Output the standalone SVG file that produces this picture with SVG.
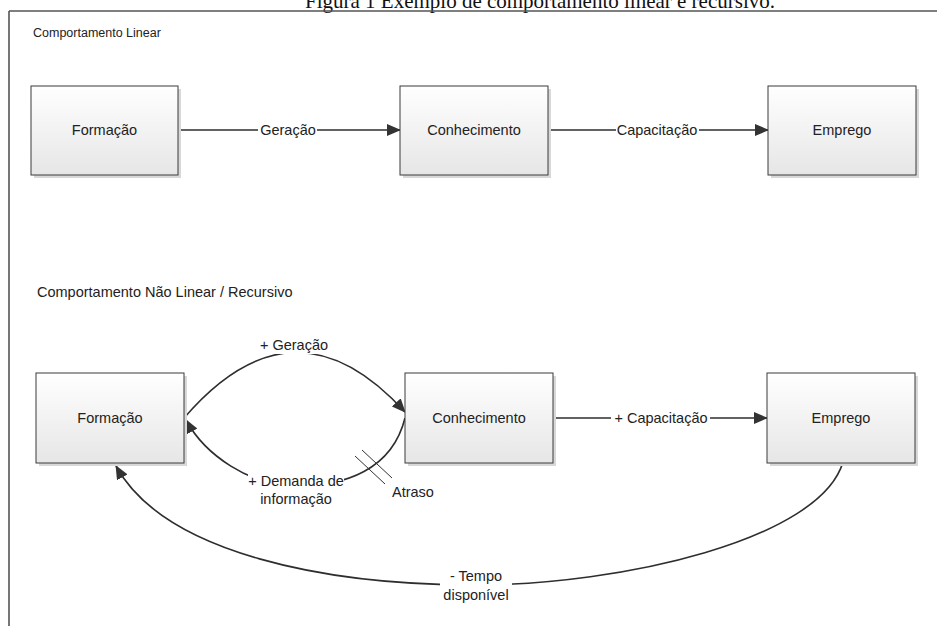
<svg xmlns="http://www.w3.org/2000/svg" width="937" height="626" viewBox="0 0 937 626">
<style>
.t{font-family:"Liberation Sans",Arial,sans-serif;font-size:14.5px;fill:#222}
.h1{font-family:"Liberation Sans",Arial,sans-serif;font-size:12.5px;fill:#222}
.h2{font-family:"Liberation Sans",Arial,sans-serif;font-size:14.5px;fill:#222}
.box{fill:url(#g);stroke:#3a3a3a;stroke-width:1}
.sh{fill:#d8d8d8}
.ln{fill:none;stroke:#2e2e2e;stroke-width:1.6}
.tk{fill:none;stroke:#333;stroke-width:1}
.bg{fill:#fff}
</style>
<defs>
<linearGradient id="g" x1="0" y1="0" x2="0" y2="1">
<stop offset="0" stop-color="#ffffff"/>
<stop offset="1" stop-color="#e6e6e6"/>
</linearGradient>
<marker id="ar" viewBox="0 0 14 12" refX="13" refY="6" markerWidth="14" markerHeight="12" markerUnits="userSpaceOnUse" orient="auto">
<path d="M0,0 L14,6 L0,12 Z" fill="#333"/>
</marker>
</defs>
<rect width="937" height="626" fill="#fff"/>
<text x="540" y="8" text-anchor="middle" style="font-family:'Liberation Serif','Times New Roman',serif;font-size:21px;fill:#111">Figura 1 Exemplo de comportamento linear e recursivo.</text>
<path d="M9,11 H937 M9,11 V626" fill="none" stroke="#555" stroke-width="1.6"/>
<text class="h1" x="33" y="37">Comportamento Linear</text>
<text class="h2" x="37" y="297">Comportamento Não Linear / Recursivo</text>

<g id="connectors">
<path class="ln" d="M178,130 H400" marker-end="url(#ar)"/>
<rect class="bg" x="258" y="121" width="59" height="18"/>
<text class="t" x="288" y="135" text-anchor="middle">Geração</text>
<path class="ln" d="M548,130 H768" marker-end="url(#ar)"/>
<rect class="bg" x="616" y="121" width="83" height="18"/>
<text class="t" x="657" y="135" text-anchor="middle">Capacitação</text>

<path class="ln" d="M553,418 H767" marker-end="url(#ar)"/>
<rect class="bg" x="611" y="409" width="99" height="18"/>
<text class="t" x="661" y="423" text-anchor="middle">+ Capacitação</text>

<path class="ln" d="M184,418 Q294,290 405,412" marker-end="url(#ar)"/>
<rect class="bg" x="261" y="337" width="67" height="17"/>
<text class="t" x="294" y="350" text-anchor="middle">+ Geração</text>

<path class="ln" d="M405,418 C392,470 345,486 296,486 C250,486 205,455 186,420" marker-end="url(#ar)"/>
<path class="tk" d="M355,456 L385,484 M362,450 L392,478"/>
<rect class="bg" x="248" y="473" width="96" height="15"/>
<text class="t" x="296" y="486" text-anchor="middle">+ Demanda de</text>
<text class="t" x="296" y="504" text-anchor="middle">informação</text>
<text class="t" x="392" y="497">Atraso</text>

<path class="ln" d="M843,462 C820,540 620,585 475,585 C330,585 165,555 116,466" marker-end="url(#ar)"/>
<rect class="bg" x="440" y="566" width="72" height="40"/>
<text class="t" x="476" y="581" text-anchor="middle">- Tempo</text>
<text class="t" x="476" y="600" text-anchor="middle">disponível</text>
</g>

<g id="formacao1"><rect class="sh" x="34" y="89" width="147" height="89"/><rect class="box" x="31" y="86" width="147" height="89"/><text class="t" x="104.5" y="135" text-anchor="middle">Formação</text></g>
<g id="conhecimento1"><rect class="sh" x="403" y="89" width="148" height="89"/><rect class="box" x="400" y="86" width="148" height="89"/><text class="t" x="474" y="135" text-anchor="middle">Conhecimento</text></g>
<g id="emprego1"><rect class="sh" x="771" y="89" width="148" height="89"/><rect class="box" x="768" y="86" width="148" height="89"/><text class="t" x="842" y="135" text-anchor="middle">Emprego</text></g>

<g id="formacao2"><rect class="sh" x="39" y="376" width="148" height="90"/><rect class="box" x="36" y="373" width="148" height="90"/><text class="t" x="110" y="423" text-anchor="middle">Formação</text></g>
<g id="conhecimento2"><rect class="sh" x="408" y="376" width="148" height="90"/><rect class="box" x="405" y="373" width="148" height="90"/><text class="t" x="479" y="423" text-anchor="middle">Conhecimento</text></g>
<g id="emprego2"><rect class="sh" x="770" y="376" width="148" height="90"/><rect class="box" x="767" y="373" width="148" height="90"/><text class="t" x="841" y="423" text-anchor="middle">Emprego</text></g>
</svg>
